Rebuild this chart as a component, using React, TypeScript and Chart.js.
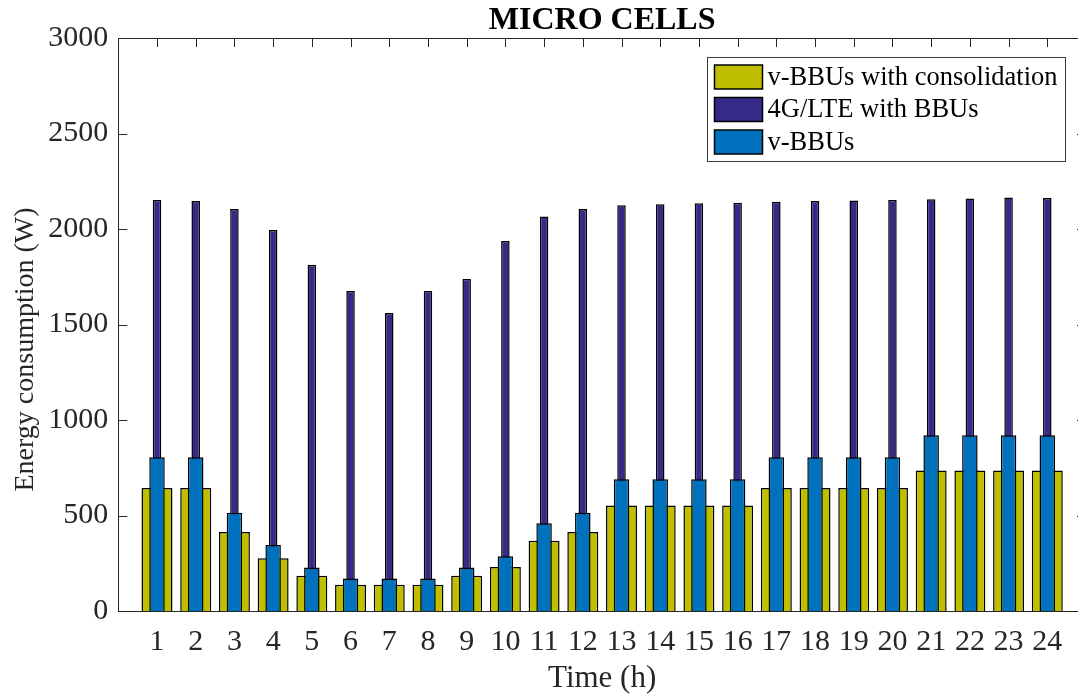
import React, { useEffect, useRef } from 'react';
import { Chart, registerables } from 'chart.js';

Chart.register(...registerables);

const hours = [1, 2, 3, 4, 5, 6, 7, 8, 9, 10, 11, 12, 13, 14, 15, 16, 17, 18, 19, 20, 21, 22, 23, 24];
const consolidationW = [644, 644, 414, 276, 184, 138, 138, 138, 184, 230, 368, 414, 552, 552, 552, 552, 644, 644, 644, 644, 736, 736, 736, 736];
const lteW = [2152, 2147, 2105, 1995, 1813, 1675, 1560, 1675, 1738, 1937, 2066, 2105, 2125, 2130, 2135, 2138, 2143, 2146, 2149, 2152, 2156, 2160, 2165, 2162];
const vbbuW = [805, 805, 515, 345, 228, 170, 170, 170, 228, 287, 460, 515, 690, 690, 690, 690, 805, 805, 805, 805, 920, 920, 920, 920];
const yTickValues = [0, 500, 1000, 1500, 2000, 2500, 3000];
const seriesNames = ['v-BBUs with consolidation', '4G/LTE with BBUs', 'v-BBUs'];
const seriesColors = ['#BFBF00', '#352A87', '#0072BD'];
const titleText = 'MICRO CELLS';
const xTitle = 'Time (h)';
const yTitle = 'Energy consumption (W)';

const FONT = '"Liberation Serif", "Times New Roman", serif';
const AXIS = '#262626';

export default function App() {
  const ref = useRef<HTMLCanvasElement>(null);

  useEffect(() => {
    if (!ref.current) return;

    const framePlugin = {
      id: 'matlabFrame',
      beforeDatasetsDraw(chart: any) {
        const { ctx, chartArea } = chart;
        const { left, right, top, bottom } = chartArea;
        const xs = chart.scales.x;
        const ys = chart.scales.y;
        const tl = 9;
        ctx.save();
        ctx.strokeStyle = AXIS;
        ctx.lineWidth = 1;
        ctx.beginPath();
        hours.forEach((h) => {
          const px = Math.round(xs.getPixelForValue(h)) + 0.5;
          ctx.moveTo(px, top);
          ctx.lineTo(px, top + tl);
          ctx.moveTo(px, bottom);
          ctx.lineTo(px, bottom - tl);
        });
        yTickValues.forEach((v) => {
          const py = Math.round(ys.getPixelForValue(v)) + 0.5;
          ctx.moveTo(left, py);
          ctx.lineTo(left + tl, py);
          ctx.moveTo(right, py);
          ctx.lineTo(right - tl, py);
        });
        ctx.stroke();
        ctx.restore();
      },
      afterDatasetsDraw(chart: any) {
        const { ctx, chartArea } = chart;
        const { left, right, top, bottom } = chartArea;
        ctx.save();
        ctx.strokeStyle = AXIS;
        ctx.lineWidth = 1;
        ctx.strokeRect(Math.round(left) + 0.5, Math.round(top) + 0.5, Math.round(right - left), Math.round(bottom - top));
        ctx.restore();
      },
    };

    const overlayPlugin = {
      id: 'overlay',
      afterDraw(chart: any) {
        const { ctx, chartArea } = chart;
        const { left, right, top, bottom } = chartArea;
        ctx.save();
        // title
        ctx.fillStyle = '#000';
        ctx.font = `bold 32px ${FONT}`;
        ctx.textAlign = 'center';
        ctx.textBaseline = 'alphabetic';
        ctx.fillText(titleText, (left + right) / 2, top - 9);

        // y-axis title
        ctx.save();
        ctx.fillStyle = AXIS;
        ctx.font = `28px ${FONT}`;
        ctx.translate(33, (top + bottom) / 2 + 25);
        ctx.rotate(-Math.PI / 2);
        ctx.textAlign = 'center';
        ctx.textBaseline = 'alphabetic';
        ctx.fillText(yTitle, 0, 0);
        ctx.restore();

        // legend box
        const bw = 358;
        const bh = 104;
        const bx = Math.round(right - 21 - bw) + 0.5;
        const by = Math.round(top + 19) + 0.5;
        ctx.fillStyle = '#fff';
        ctx.fillRect(bx, by, bw, bh);
        ctx.strokeStyle = '#3a3a3a';
        ctx.lineWidth = 1;
        ctx.strokeRect(bx, by, bw, bh);
        ctx.font = `26.5px ${FONT}`;
        ctx.textAlign = 'left';
        ctx.textBaseline = 'middle';
        seriesNames.forEach((name, i) => {
          const sy = by + 7.5 + i * 32.5;
          const sx = bx + 7;
          ctx.fillStyle = seriesColors[i];
          ctx.fillRect(sx, sy, 48, 24);
          ctx.strokeStyle = '#000';
          ctx.lineWidth = 1.5;
          ctx.strokeRect(sx, sy, 48, 24);
          ctx.fillStyle = '#000';
          ctx.fillText(name, sx + 53, sy + 13);
        });
        ctx.restore();
      },
    };

    const common = {
      borderColor: '#000',
      borderWidth: 1.5,
      categoryPercentage: 1,
      grouped: false,
    };

    const chart = new Chart(ref.current, {
      type: 'bar',
      data: {
        labels: hours,
        datasets: [
          { ...common, label: seriesNames[0], data: consolidationW, backgroundColor: seriesColors[0], barPercentage: 0.8, order: 3 },
          { ...common, label: seriesNames[1], data: lteW, backgroundColor: seriesColors[1], barPercentage: 0.22, order: 2 },
          { ...common, label: seriesNames[2], data: vbbuW, backgroundColor: seriesColors[2], barPercentage: 0.4, order: 1 },
        ],
      } as any,
      options: {
        animation: false,
        responsive: true,
        maintainAspectRatio: false,
        layout: { padding: { top: 38, right: 14, left: 0, bottom: 0 } },
        plugins: {
          legend: { display: false },
          title: { display: false },
          tooltip: { enabled: false },
        },
        scales: {
          x: {
            type: 'linear',
            min: 0,
            max: 25,
            offset: false,
            afterBuildTicks: (s: any) => {
              s.ticks = hours.map((v) => ({ value: v }));
            },
            ticks: {
              autoSkip: false,
              maxRotation: 0,
              padding: 13,
              color: AXIS,
              font: { family: FONT, size: 30 },
              callback: (v: any) => String(v),
            },
            grid: { display: false, drawTicks: false },
            border: { display: false },
            title: { display: true, text: xTitle, color: AXIS, font: { family: FONT, size: 31, lineHeight: 1 }, padding: { top: 0, bottom: 0 } },
            afterFit: (s: any) => {
              s.height = 83;
            },
          },
          y: {
            min: 0,
            max: 3000,
            afterBuildTicks: (s: any) => {
              s.ticks = yTickValues.map((v) => ({ value: v }));
            },
            ticks: {
              padding: 10,
              color: AXIS,
              font: { family: FONT, size: 30 },
              callback: (v: any) => String(v),
            },
            grid: { display: false, drawTicks: false },
            border: { display: false },
            title: { display: false },
            afterFit: (s: any) => {
              s.width = 118.3;
            },
          },
        },
      } as any,
      plugins: [framePlugin, overlayPlugin],
    });

    return () => chart.destroy();
  }, []);

  return (
    <div style={{ position: 'fixed', left: 0, top: 0, width: 1078, height: 694, overflow: 'hidden', background: '#fff' }}>
      <div style={{ position: 'relative', width: 1100, height: 694 }}>
        <canvas ref={ref} />
      </div>
    </div>
  );
}
